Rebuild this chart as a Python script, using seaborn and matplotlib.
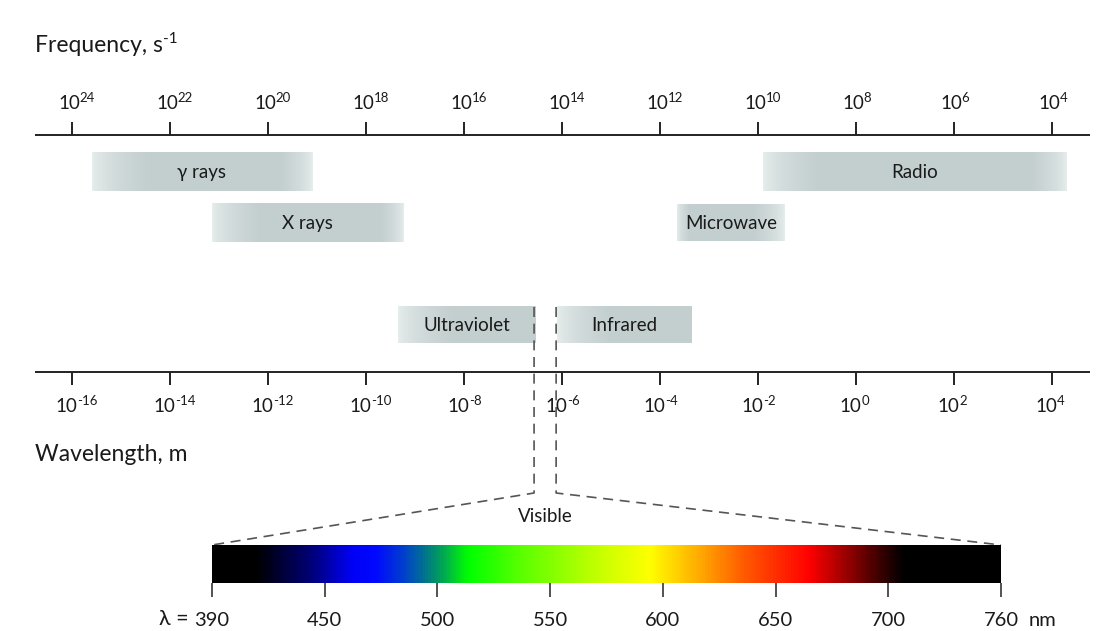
import numpy as np
import pandas as pd
import matplotlib
matplotlib.use("Agg")
import matplotlib.pyplot as plt
from matplotlib.colors import LinearSegmentedColormap
import seaborn as sns

# ---------------- data ----------------
# frequency ticks (exponent of s^-1) and wavelength ticks (exponent of m)
freq_exponents = [24, 22, 20, 18, 16, 14, 12, 10, 8, 6, 4]
wave_exponents = [-16, -14, -12, -10, -8, -6, -4, -2, 0, 2, 4]

# spectral regions, as log10(wavelength / m)
band_names = ["γ rays", "X rays", "Microwave", "Radio", "Ultraviolet", "Infrared"]
band_lo = [-15.6, -13.15, -3.65, -1.9, -9.35, -6.1]
band_hi = [-11.1, -9.25, -1.45, 4.3, -6.55, -3.35]

# log10(wavelength / m) of the guides enclosing the visible range
visible_edges = [-6.57, -6.12]

# visible spectrum tick labels (nm)
visible_ticks_nm = [390, 450, 500, 550, 600, 650, 700, 760]

# ---------------- layout / style ----------------
W, H = 1107, 631
FREQ_OFFSET = 8          # 10^24 s^-1 drawn above 10^-16 m
band_rows = {            # (top, bottom) in pixel rows
    "γ rays": (152, 191), "X rays": (203, 242), "Microwave": (204, 241),
    "Radio": (152, 191), "Ultraviolet": (306, 343), "Infrared": (306, 343),
}
band_fade = {            # (left fade, right fade) fractions of the bar
    "γ rays": (0.25, 0.15), "X rays": (0.25, 0.12), "Microwave": (0.12, 0.3),
    "Radio": (0.18, 0.12), "Ultraviolet": (0.4, 0.0), "Infrared": (0.4, 0.0),
}
band_dark = np.array([0.765, 0.808, 0.808])
band_light = np.array([0.91, 0.935, 0.935])

sns.set_theme(style="white")
plt.rcParams["font.family"] = ["Lato", "DejaVu Sans"]
TXT = "#1a1a1a"

fig = plt.figure(figsize=(W / 100, H / 100), dpi=100)
fig.patch.set_facecolor("white")
ax = fig.add_axes([0, 0, 1, 1])
ax.set_facecolor("white")

# x in log10(wavelength), 49 px per decade, 10^-16 at px 72
PX_PER_DEC = 49.0
x_left = -16 - 72 / PX_PER_DEC
x_right = x_left + W / PX_PER_DEC


def px(p):
    return x_left + p / PX_PER_DEC


def with_superscript(x, y, base, sup, size, sup_size, ha="right", rise=2.0,
                     gap=-0.2):
    """Draw `base` ending at x (baseline y) with a raised `sup` after it."""
    t = ax.text(x, y, base, ha=ha, va="baseline", fontsize=size, color=TXT)
    ax.annotate(sup, xy=(1, 1), xycoords=t, xytext=(gap, rise),
                textcoords="offset points", ha="left", va="top",
                fontsize=sup_size, color=TXT)
    return t


# ---- axis baselines ----
line_kw = dict(color="#222222", lw=1.4, zorder=3)
ax.hlines([135, 372], px(35), px(1090), **line_kw)

# frequency ticks (pointing up) and labels
for e in freq_exponents:
    xf = FREQ_OFFSET - e
    ax.vlines(xf, 122, 135, **line_kw)
    with_superscript(xf + 8 / PX_PER_DEC, 109, "10", str(e), 13.5, 9.5)

# wavelength ticks (pointing down) and labels
for e in wave_exponents:
    ax.vlines(e, 372, 385, **line_kw)
    with_superscript(e + 5.5 / PX_PER_DEC, 412, "10", str(e), 13.5, 9.5)

with_superscript(px(35), 52, "Frequency, s", "-1", 16.5, 11, ha="left",
                 rise=2.5, gap=0.3)
ax.text(px(35), 461, "Wavelength, m", ha="left", va="baseline",
        fontsize=16.5, color=TXT)

# ---- spectral region bars ----
t = np.linspace(0, 1, 400)
for name, lo, hi in zip(band_names, band_lo, band_hi):
    top, bot = band_rows[name]
    lf, rf = band_fade[name]
    w = np.ones_like(t)
    if lf > 0:
        w = np.minimum(w, t / lf)
    if rf > 0:
        w = np.minimum(w, (1 - t) / rf)
    w = np.clip(w, 0, 1) ** 0.6
    rgb = band_light[None, :] * (1 - w[:, None]) + band_dark[None, :] * w[:, None]
    ax.imshow(rgb[None, :, :], extent=[lo, hi, bot, top], aspect="auto",
              interpolation="bilinear", zorder=1)
    ax.text((lo + hi) / 2, (top + bot) / 2 + 1, name, ha="center",
            va="center", fontsize=13.5, color=TXT, zorder=2)

ax.set_xlim(x_left, x_right)
ax.set_ylim(H, 0)
ax.axis("off")

# ---- visible spectrum strip ----
spec_box = [212 / W, (H - 583) / H, 789 / W, 38 / H]
sax = fig.add_axes(spec_box)
spec_cmap = LinearSegmentedColormap.from_list("visible", [
    (0.000, (0, 0, 0)), (0.054, (0, 0, 0)), (0.124, (0, 0, 0.47)),
    (0.175, (0, 0, 0.96)), (0.207, (0, 0.04, 1.0)), (0.245, (0, 0.27, 0.78)),
    (0.285, (0, 0.59, 0.39)), (0.324, (0, 1.0, 0)), (0.390, (0.35, 1.0, 0)),
    (0.492, (0.78, 1.0, 0)), (0.555, (1.0, 1.0, 0)), (0.618, (1.0, 0.67, 0)),
    (0.676, (1.0, 0.35, 0)), (0.758, (1.0, 0, 0)), (0.802, (0.63, 0, 0)),
    (0.847, (0.24, 0, 0)), (0.878, (0, 0, 0)), (1.000, (0, 0, 0)),
])
n_vis = len(visible_ticks_nm)
sax.imshow(np.linspace(0, 1, 800)[None, :], cmap=spec_cmap,
           extent=[0, n_vis - 1, 0, 1], aspect="auto", interpolation="bilinear")
sax.set_xlim(0, n_vis - 1)
sax.set_ylim(0, 1)
sax.set_xticks(range(n_vis))
sax.set_xticklabels([str(v) for v in visible_ticks_nm])
sax.set_yticks([])
for s in sax.spines.values():
    s.set_visible(False)
sax.tick_params(axis="x", bottom=True, direction="out", length=10, width=1.3,
                color="#444444", pad=11, labelsize=14.5, labelcolor=TXT)

# corners of the strip in main-axes data coordinates
inv = ax.transData.inverted()
c_left = inv.transform(fig.transFigure.transform((spec_box[0], spec_box[1] + spec_box[3])))
c_right = inv.transform(fig.transFigure.transform((spec_box[0] + spec_box[2],
                                                   spec_box[1] + spec_box[3])))

# ---- zoom guides from the main scale down to the visible strip ----
knee_y = 493
guides = pd.DataFrame({
    "x": [visible_edges[0], visible_edges[0], c_left[0],
          visible_edges[1], visible_edges[1], c_right[0]],
    "y": [307, knee_y, c_left[1], 307, knee_y, c_right[1]],
    "side": ["left"] * 3 + ["right"] * 3,
})
sns.lineplot(data=guides, x="x", y="y", units="side", estimator=None,
             sort=False, ax=ax, color="#555555", lw=1.2, legend=False,
             zorder=4)
for ln in ax.lines[-2:]:
    ln.set_dashes((6, 4))
ax.set_xlim(x_left, x_right)
ax.set_ylim(H, 0)
ax.axis("off")

ax.text(px(545), 516, "Visible", ha="center", va="center", fontsize=13.5,
        color=TXT)
ax.text(px(174), 619, "λ =", ha="center", va="center", fontsize=15.5,
        color=TXT)
ax.text(px(1043), 621, "nm", ha="center", va="center", fontsize=14.5,
        color=TXT)

fig.savefig("out.png", dpi=100, facecolor="white")
